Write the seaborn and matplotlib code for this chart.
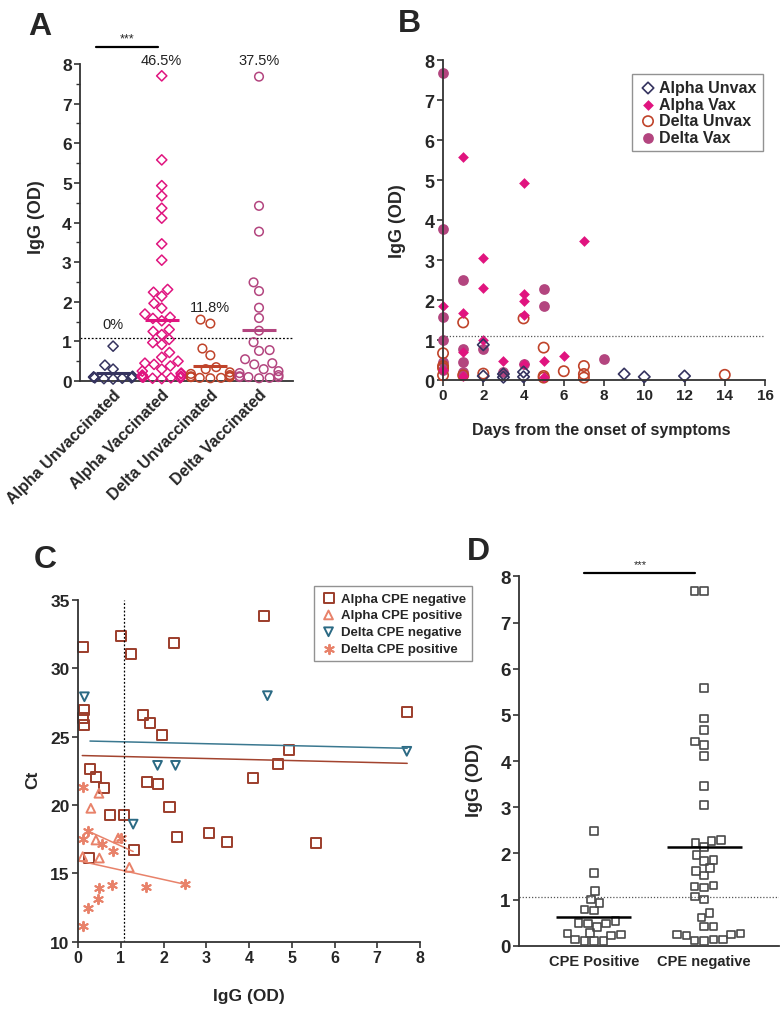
import numpy as np
import pandas as pd
import matplotlib
matplotlib.use("Agg")
import matplotlib.pyplot as plt
import seaborn as sns

# ---------------- data ----------------
# Panel A: IgG (OD) by group
a_groups = ["Alpha Unvaccinated", "Alpha Vaccinated", "Delta Unvaccinated", "Delta Vaccinated"]
a_alpha_unvax = [0.88, 0.4, 0.3, 0.12, 0.1, 0.1, 0.1, 0.08, 0.08, 0.07, 0.06, 0.05]
a_alpha_vax = [7.70, 5.58, 4.93, 4.67, 4.36, 4.11, 3.46, 3.05, 2.31, 2.24, 2.14, 1.96, 1.84,
               1.69, 1.61, 1.58, 1.52, 1.30, 1.25, 1.17, 1.05, 0.97, 0.92, 0.72, 0.6, 0.5,
               0.45, 0.42, 0.38, 0.3, 0.25, 0.2, 0.18, 0.15, 0.12, 0.12, 0.1, 0.1, 0.1,
               0.08, 0.08, 0.07, 0.06]
a_delta_unvax = [1.55, 1.45, 0.82, 0.65, 0.35, 0.3, 0.22, 0.18, 0.15, 0.12, 0.12, 0.1, 0.1,
                 0.1, 0.08, 0.08, 0.07]
a_delta_vax = [7.68, 4.42, 3.77, 2.49, 2.27, 1.85, 1.59, 1.27, 0.98, 0.78, 0.76, 0.55, 0.45,
               0.42, 0.3, 0.25, 0.2, 0.15, 0.12, 0.1, 0.1, 0.1, 0.08, 0.07]
a_pct = ["0%", "46.5%", "11.8%", "37.5%"]
a_cutoff = 1.08

# Panel B: IgG vs days from onset
b_alpha_unvax_day = [2, 2, 3, 3, 4, 4, 9, 10, 12]
b_alpha_unvax_igg = [0.88, 0.1, 0.15, 0.07, 0.2, 0.08, 0.15, 0.08, 0.1]
b_alpha_vax_day = [0, 0, 1, 1, 1, 1, 2, 2, 2, 3, 4, 4, 4, 4, 4, 5, 5, 6, 7]
b_alpha_vax_igg = [1.86, 0.25, 5.57, 1.67, 0.7, 0.1, 3.05, 2.29, 1.0, 0.48, 4.92, 2.15, 1.97,
                   1.62, 0.4, 0.47, 0.08, 0.61, 3.47]
b_delta_unvax_day = [0, 0, 0, 0, 1, 1, 2, 4, 5, 5, 5, 6, 7, 7, 7, 14]
b_delta_unvax_igg = [0.67, 0.35, 0.3, 0.12, 1.44, 0.12, 0.16, 1.54, 0.81, 0.1, 0.06, 0.22,
                     0.35, 0.15, 0.06, 0.13]
b_delta_vax_day = [0, 0, 0, 0, 0, 0, 1, 1, 1, 1, 1, 2, 3, 4, 5, 5, 8]
b_delta_vax_igg = [7.68, 3.77, 1.58, 1.0, 0.45, 0.25, 2.5, 0.77, 0.44, 0.2, 0.12, 0.77, 0.2,
                   0.4, 2.27, 1.84, 0.52]
b_cutoff = 1.1

# Panel C: Ct vs IgG
c_alpha_neg_igg = [0.12, 1.0, 1.25, 2.24, 4.36, 0.13, 0.11, 0.14, 1.53, 1.68, 1.97, 4.93,
                   4.67, 0.29, 0.42, 0.6, 1.62, 1.87, 4.1, 2.14, 0.74, 1.08, 2.31, 3.06,
                   3.48, 5.57, 1.31, 0.25, 7.69]
c_alpha_neg_ct = [31.54, 32.4, 31.05, 31.85, 33.85, 26.95, 26.34, 25.85, 26.58, 26.0, 25.15,
                  24.05, 23.0, 22.63, 22.03, 21.22, 21.66, 21.51, 21.95, 19.83, 19.29, 19.27,
                  17.68, 17.95, 17.29, 17.22, 16.73, 16.1, 26.78]
c_alpha_pos_igg = [0.3, 0.49, 0.42, 0.94, 0.5, 0.11, 1.2]
c_alpha_pos_ct = [19.76, 20.86, 17.44, 17.58, 16.12, 16.22, 15.44]
c_delta_neg_igg = [0.15, 4.43, 1.86, 2.28, 1.29, 7.69]
c_delta_neg_ct = [27.92, 28.0, 22.9, 22.9, 18.6, 23.93]
c_delta_pos_igg = [0.11, 0.11, 0.24, 0.55, 0.81, 1.0, 0.79, 0.5, 0.46, 0.24, 0.11, 1.58, 2.5]
c_delta_pos_ct = [21.3, 17.5, 18.12, 17.15, 16.61, 17.58, 14.17, 13.9, 13.12, 12.5, 11.13,
                  13.98, 14.22]
# linear fits (end points)
c_fit_alpha_neg = ([0.1, 7.7], [23.62, 23.05])
c_fit_alpha_pos = ([0.16, 1.29], [18.2, 16.6])
c_fit_delta_neg = ([0.28, 7.7], [24.68, 24.15])
c_fit_delta_pos = ([0.05, 2.5], [15.9, 14.2])
c_cutoff = 1.08

# Panel D: IgG by CPE status
d_groups = ["CPE Positive", "CPE negative"]
d_cpe_pos = [2.49, 1.58, 1.18, 0.92, 1.0, 0.76, 0.78, 0.54, 0.48, 0.41, 0.48, 0.49, 0.22,
             0.26, 0.24, 0.28, 0.1, 0.1, 0.1, 0.13]
d_cpe_neg = [7.68, 7.68, 5.58, 4.92, 4.67, 4.42, 4.35, 4.11, 3.46, 3.05, 2.29, 2.22, 2.14,
             2.27, 1.96, 1.84, 1.86, 1.68, 1.62, 1.52, 1.30, 1.26, 1.28, 1.07, 1.0, 0.71,
             0.61, 0.42, 0.42, 0.22, 0.24, 0.24, 0.27, 0.13, 0.1, 0.11, 0.13]
d_cutoff = 1.05

# ---------------- style ----------------
sns.set_theme(style="ticks")
plt.rcParams['font.family'] = ['Liberation Sans', 'DejaVu Sans']

col_a_unvax = "#35335f"
col_a_vax = "#e0147f"
col_d_unvax = "#c0432a"
col_d_vax = "#b3457f"
col_c_aneg = "#9c3d2b"
col_c_pos = "#e8826a"
col_c_dneg = "#2b6a84"
axis_col = "#333333"


def style_axis(ax, ysize=12, xsize=11):
    sns.despine(ax=ax)
    for s in ["left", "bottom"]:
        ax.spines[s].set_linewidth(1.3)
        ax.spines[s].set_color(axis_col)
    ax.tick_params(width=1.2, color=axis_col, length=4, direction="out", pad=2)
    ax.tick_params(axis="y", labelsize=ysize)
    ax.tick_params(axis="x", labelsize=xsize)
    for lbl in ax.get_xticklabels() + ax.get_yticklabels():
        lbl.set_fontweight("bold")


def hollow(ax, start=0):
    for coll in ax.collections[start:]:
        fc = coll.get_facecolors()
        coll.set_edgecolors(fc)
        coll.set_facecolors("none")
        coll.set_clip_on(False)


fig = plt.figure(figsize=(7.8, 10.12), dpi=100)
axA = fig.add_axes([0.1026, 0.6225, 0.2731, 0.3133])
axB = fig.add_axes([0.568, 0.6235, 0.4128, 0.3162])
axC = fig.add_axes([0.1, 0.0685, 0.4385, 0.3376])
axD = fig.add_axes([0.6654, 0.0645, 0.3333, 0.365])

# ---------------- Panel A ----------------
dfA = pd.DataFrame({
    "group": [a_groups[0]] * len(a_alpha_unvax) + [a_groups[1]] * len(a_alpha_vax)
    + [a_groups[2]] * len(a_delta_unvax) + [a_groups[3]] * len(a_delta_vax),
    "igg": a_alpha_unvax + a_alpha_vax + a_delta_unvax + a_delta_vax,
})
palA = dict(zip(a_groups, [col_a_unvax, col_a_vax, col_d_unvax, col_d_vax]))
alpha_mask = dfA["group"].str.startswith("Alpha")
sns.swarmplot(data=dfA[alpha_mask], x="group", y="igg", order=a_groups, hue="group",
              palette=palA, marker="D", size=5.2, linewidth=0, legend=False, ax=axA)
sns.swarmplot(data=dfA[~alpha_mask], x="group", y="igg", order=a_groups, hue="group",
              palette=palA, marker="o", size=6.2, linewidth=0, legend=False, ax=axA)
for coll in axA.collections:
    coll.set_linewidth(1.1)
hollow(axA)

meansA = dfA.groupby("group")["igg"].mean()
for i, g in enumerate(a_groups):
    axA.hlines(meansA[g], i - 0.35, i + 0.35, color=palA[g], lw=2.2, zorder=5)
    ytxt = 8.1 if i in (1, 3) else meansA[g] + (1.25 if i == 0 else 1.5)
    axA.text(i, ytxt, a_pct[i], ha="center", va="center", fontsize=10.5, color="#222222",
             clip_on=False)
axA.axhline(a_cutoff, color="black", lw=0.9, ls=(0, (1.5, 1.5)))
axA.plot([-0.35, 0.92], [8.43, 8.43], color="black", lw=1.6, clip_on=False)
axA.text(0.28, 8.5, "***", ha="center", va="bottom", fontsize=9, clip_on=False)

axA.set_xlim(-0.68, 3.7)
axA.set_ylim(0, 8)
axA.set_yticks(range(0, 9))
axA.set_yticks(np.arange(0.5, 8, 1.0), minor=True)
axA.set_xlabel("")
axA.set_ylabel("IgG (OD)", fontsize=13, fontweight="bold")
axA.yaxis.set_label_coords(-0.165, 0.52)
style_axis(axA, ysize=12.5, xsize=11.5)
axA.tick_params(axis="y", which="minor", length=3, width=1.0, color=axis_col)
axA.tick_params(axis="x", length=0, pad=4)
axA.set_xticks(range(4))
axA.set_xticklabels(a_groups, rotation=45, ha="right", rotation_mode="anchor",
                    fontsize=11.5, fontweight="bold")

# ---------------- Panel B ----------------
b_sets = [
    ("Delta Vax", b_delta_vax_day, b_delta_vax_igg, col_d_vax, "o", 60, True),
    ("Delta Unvax", b_delta_unvax_day, b_delta_unvax_igg, col_d_unvax, "o", 55, False),
    ("Alpha Vax", b_alpha_vax_day, b_alpha_vax_igg, col_a_vax, "D", 30, True),
    ("Alpha Unvax", b_alpha_unvax_day, b_alpha_unvax_igg, col_a_unvax, "D", 34, False),
]
handlesB = {}
for name, xs, ys, col, mk, s, filled in b_sets:
    sns.scatterplot(x=xs, y=ys, color=col, marker=mk, s=s, linewidth=1.2 if not filled else 0,
                    label=name, ax=axB)
    coll = axB.collections[-1]
    coll.set_clip_on(False)
    if not filled:
        coll.set_facecolors("none")
        coll.set_edgecolors(col)
    handlesB[name] = coll
axB.axhline(b_cutoff, color="#555555", lw=0.9, ls=(0, (1, 1.5)))
axB.set_xlim(0, 16)
axB.set_ylim(0, 8)
axB.set_xticks(range(0, 17, 2))
axB.set_yticks(range(0, 9))
axB.set_xlabel("Days from the onset of symptoms", fontsize=11.5, fontweight="bold")
axB.set_ylabel("IgG (OD)", fontsize=13, fontweight="bold")
axB.yaxis.set_label_coords(-0.115, 0.5)
axB.xaxis.set_label_coords(0.49, -0.13)
style_axis(axB, ysize=13, xsize=11)
order_b = ["Alpha Unvax", "Alpha Vax", "Delta Unvax", "Delta Vax"]
legB = axB.legend([handlesB[n] for n in order_b], order_b, loc="upper left",
                  bbox_to_anchor=(0.587, 0.957), frameon=True, fancybox=False,
                  prop={"weight": "bold", "size": 11.5}, handletextpad=0.1,
                  borderpad=0.4, labelspacing=0.1, handlelength=1.2, borderaxespad=0)
legB.get_frame().set_edgecolor("#777777")
legB.get_frame().set_linewidth(1.0)

# ---------------- Panel C ----------------
c_sets = [
    ("Alpha CPE negative", c_alpha_neg_igg, c_alpha_neg_ct, col_c_aneg, "s", 52, False),
    ("Alpha CPE positive", c_alpha_pos_igg, c_alpha_pos_ct, col_c_pos, "^", 40, False),
    ("Delta CPE negative", c_delta_neg_igg, c_delta_neg_ct, col_c_dneg, "v", 40, False),
    ("Delta CPE positive", c_delta_pos_igg, c_delta_pos_ct, col_c_pos, (6, 2, 0), 45, True),
]
handlesC = []
for name, xs, ys, col, mk, s, line_marker in c_sets:
    sns.scatterplot(x=xs, y=ys, color=col, marker=mk, s=s, linewidth=1.4, label=name, ax=axC)
    coll = axC.collections[-1]
    coll.set_clip_on(False)
    if not line_marker:
        coll.set_facecolors("none")
    coll.set_edgecolors(col)
    handlesC.append(coll)

for (fx, fy), col in [(c_fit_alpha_neg, "#a3442f"), (c_fit_delta_neg, "#3a7890"),
                      (c_fit_alpha_pos, col_c_pos), (c_fit_delta_pos, col_c_pos)]:
    axC.plot(fx, fy, color=col, lw=1.1)
axC.axvline(c_cutoff, color="black", lw=0.9, ls=(0, (1.5, 1.5)))
axC.set_xlim(0, 8)
axC.set_ylim(10, 35)
axC.set_xticks(range(0, 9))
axC.set_yticks(range(10, 36, 5))
axC.set_xlabel("IgG (OD)", fontsize=12.5, fontweight="bold")
axC.set_ylabel("Ct", fontsize=12.5, fontweight="bold")
axC.yaxis.set_label_coords(-0.11, 0.476)
axC.xaxis.set_label_coords(0.5, -0.135)
style_axis(axC, ysize=12.5, xsize=11.5)
legC = axC.legend(handlesC, [c[0] for c in c_sets], loc="upper left",
                  bbox_to_anchor=(0.69, 1.04), frameon=True, fancybox=False,
                  prop={"weight": "bold", "size": 9.5}, handletextpad=0.3,
                  borderpad=0.45, labelspacing=0.35, handlelength=1.3, borderaxespad=0)
legC.get_frame().set_edgecolor("#777777")
legC.get_frame().set_linewidth(1.0)

# ---------------- Panel D ----------------
dfD = pd.DataFrame({
    "group": [d_groups[0]] * len(d_cpe_pos) + [d_groups[1]] * len(d_cpe_neg),
    "igg": d_cpe_pos + d_cpe_neg,
})
sns.swarmplot(data=dfD, x="group", y="igg", order=d_groups, color="#4a4a4a", marker="s",
              size=5.4, linewidth=0, ax=axD)
for coll in axD.collections:
    coll.set_linewidth(1.2)
hollow(axD)
meansD = dfD.groupby("group")["igg"].mean()
for i, g in enumerate(d_groups):
    axD.hlines(meansD[g], i - 0.34, i + 0.34, color="black", lw=1.8, zorder=5)
axD.axhline(d_cutoff, color="#555555", lw=0.9, ls=(0, (1, 1.5)))
axD.plot([-0.09, 0.92], [8.07, 8.07], color="black", lw=1.6, clip_on=False)
axD.text(0.42, 8.15, "***", ha="center", va="bottom", fontsize=8, clip_on=False)
axD.set_xlim(-0.68, 1.68)
axD.set_ylim(0, 8)
axD.set_yticks(range(0, 9))
axD.set_xlabel("")
axD.set_ylabel("IgG (OD)", fontsize=13, fontweight="bold")
axD.yaxis.set_label_coords(-0.14, 0.45)
style_axis(axD, ysize=13.5, xsize=10.5)
axD.tick_params(axis="x", length=0, pad=6)

# ---------------- panel letters ----------------
for lbl, x, y in [("A", 28, 35), ("B", 398, 32), ("C", 34, 568), ("D", 467, 560)]:
    fig.text(x / 780, 1 - y / 1012, lbl, fontsize=23, fontweight="bold", ha="left",
             va="baseline")

fig.savefig("out.png", dpi=100)
